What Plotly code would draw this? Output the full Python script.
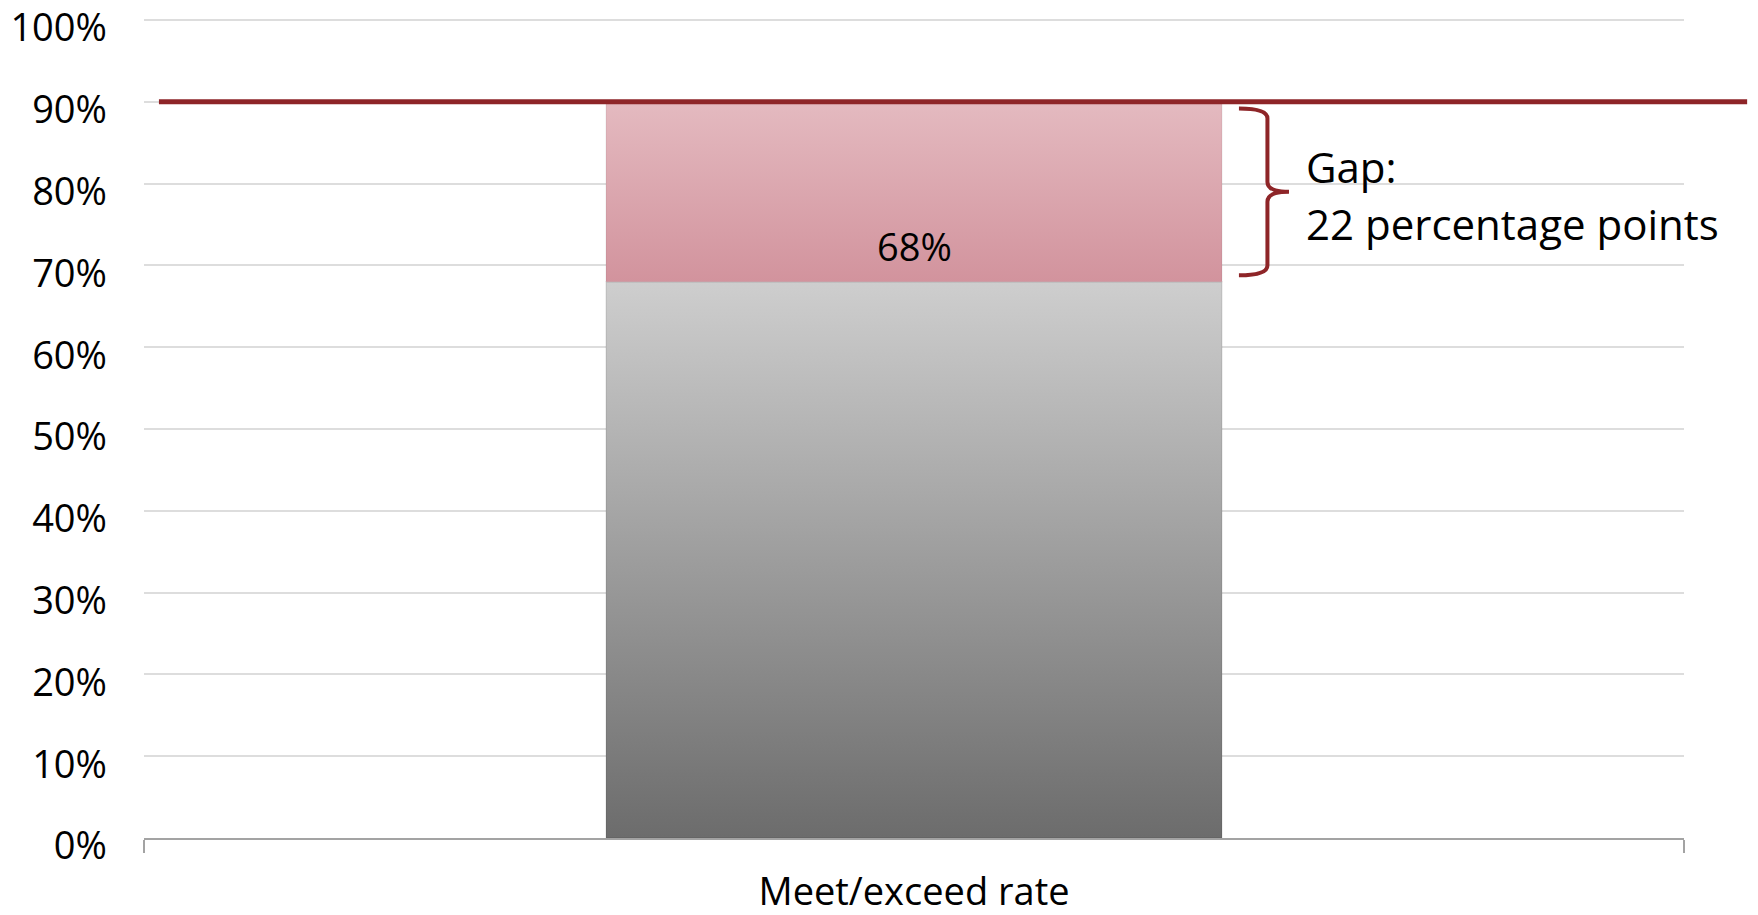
import plotly.graph_objects as go

# ---- data ----
CATEGORIES = ["Meet/exceed rate"]
RATE = [0.68]            # meet/exceed rate
TARGET = 0.90            # goal line
Y_TICK_VALUES = [0.0, 0.1, 0.2, 0.3, 0.4, 0.5, 0.6, 0.7, 0.8, 0.9, 1.0]
Y_TICK_LABELS = ["0%", "10%", "20%", "30%", "40%", "50%", "60%", "70%", "80%", "90%", "100%"]

# ---- style ----
FONT = "Open Sans"
FS = 38
FS_GAP = 42
DARK_RED = "#8E2528"
BAR_WIDTH = 0.4
GRAY_SCALE = [[0, "#6C6C6C"], [1, "#CECECE"]]
PINK_SCALE = [[0, "#D2939D"], [1, "#E4BAC0"]]

fig = go.Figure()

for i, (cat, v) in enumerate(zip(CATEGORIES, RATE)):
    x0, x1 = i - BAR_WIDTH / 2, i + BAR_WIDTH / 2
    # value bar (gray gradient)
    fig.add_trace(go.Scatter(
        x=[x0, x1, x1, x0, x0], y=[0, 0, v, v, 0],
        mode="lines", fill="toself",
        line=dict(width=1.5, color="rgba(0,0,0,0.08)"),
        fillgradient=dict(type="vertical", colorscale=GRAY_SCALE, start=0, stop=v),
        hoverinfo="skip", showlegend=False,
    ))
    # gap to target (pink gradient)
    fig.add_trace(go.Scatter(
        x=[x0, x1, x1, x0, x0], y=[v, v, TARGET, TARGET, v],
        mode="lines", fill="toself",
        line=dict(width=1.5, color="rgba(0,0,0,0.05)"),
        fillgradient=dict(type="vertical", colorscale=PINK_SCALE, start=v, stop=TARGET),
        hoverinfo="skip", showlegend=False,
    ))
    fig.add_annotation(
        x=i, y=v, xref="x", yref="y", text=f"{v*100:.0f}%",
        showarrow=False, yanchor="bottom", yshift=8,
        font=dict(family=FONT, size=FS, color="black"),
    )

# target line (extends beyond the plot area to the right)
fig.add_shape(type="line", xref="paper", yref="y",
              x0=0.0097, x1=1.041, y0=TARGET, y1=TARGET,
              line=dict(color=DARK_RED, width=5), layer="above")

# curly brace marking the gap
v = RATE[0]
inset = 0.008
yt, yb = TARGET - inset, v + inset
ym = (yt + yb) / 2
xa, xb, xc = 0.711, 0.7295, 0.7435
r = 0.012
path = (f"M {xa},{yt} Q {xb},{yt} {xb},{yt - r} "
        f"L {xb},{ym + r} Q {xb},{ym} {xc},{ym} "
        f"Q {xb},{ym} {xb},{ym - r} "
        f"L {xb},{yb + r} Q {xb},{yb} {xa},{yb}")
fig.add_shape(type="path", xref="paper", yref="y", path=path,
              line=dict(color=DARK_RED, width=4))

gap_pts = round((TARGET - v) * 100)
fig.add_annotation(x=0.7535, y=ym + 0.031, xref="paper", yref="y", text="Gap:",
                   showarrow=False, xanchor="left", yanchor="middle",
                   font=dict(family=FONT, size=FS_GAP, color="black"))
fig.add_annotation(x=0.7535, y=ym - 0.039, xref="paper", yref="y",
                   text=f"{gap_pts} percentage points",
                   showarrow=False, xanchor="left", yanchor="middle",
                   font=dict(family=FONT, size=FS_GAP, color="black"))

fig.update_layout(
    width=1758, height=915,
    margin=dict(l=144, r=74, t=18, b=77),
    paper_bgcolor="white", plot_bgcolor="white",
    font=dict(family=FONT, size=FS, color="black"),
    showlegend=False,
    xaxis=dict(
        type="linear", range=[-0.5, len(CATEGORIES) - 0.5],
        tickvals=list(range(len(CATEGORIES))), ticktext=CATEGORIES,
        ticks="", showgrid=False, zeroline=False,
        showline=True, linecolor="#A3A3A3", linewidth=2,
        minor=dict(tickvals=[-0.5 + k for k in range(len(CATEGORIES) + 1)],
                   ticks="outside", ticklen=13, tickwidth=2, tickcolor="#A3A3A3",
                   showgrid=False),
        ticklabelstandoff=19,
        automargin=False,
        tickfont=dict(family=FONT, size=FS, color="black"),
        fixedrange=True,
    ),
    yaxis=dict(
        range=[0, 1.0025], tickvals=Y_TICK_VALUES, ticktext=Y_TICK_LABELS,
        showgrid=True, gridcolor="#DDDDDD", gridwidth=2,
        zeroline=False, showline=False, ticks="",
        ticklabelstandoff=36, ticklabeloverflow="allow", ticklabelshift=8,
        automargin=False,
        tickfont=dict(family=FONT, size=FS, color="black"),
        fixedrange=True,
    ),
)

fig.write_html("out.html")
